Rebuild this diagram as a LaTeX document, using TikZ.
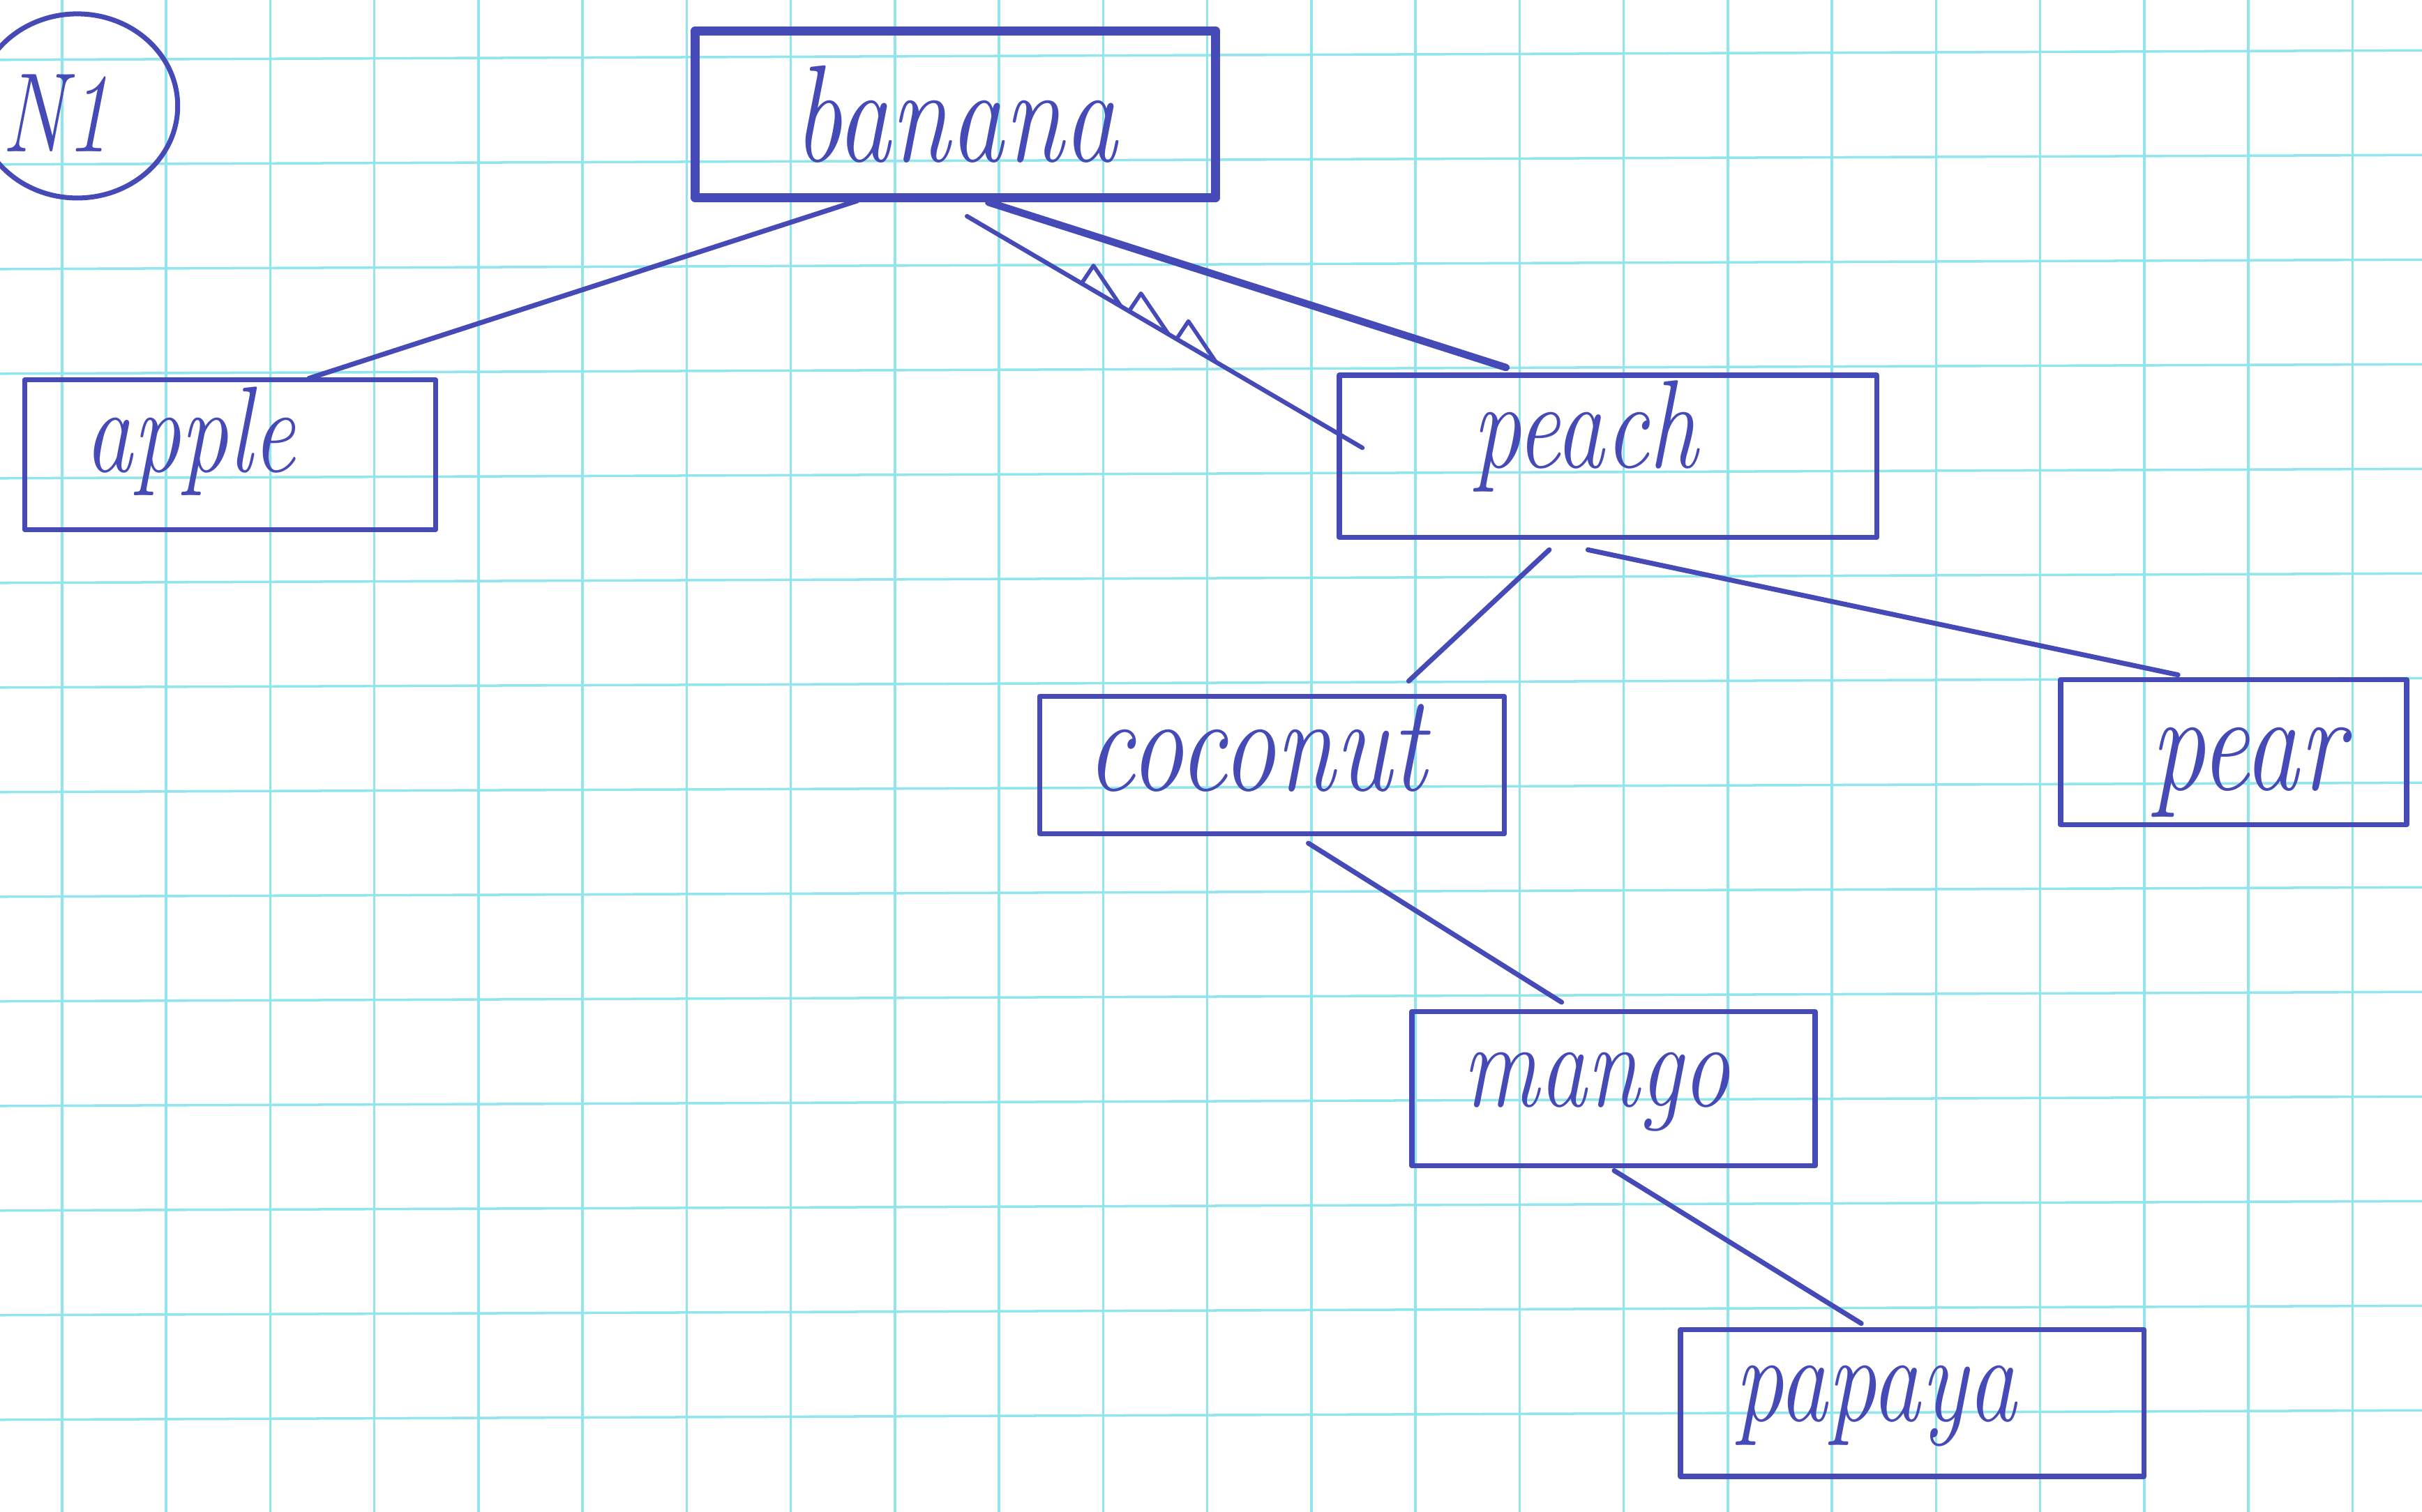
\documentclass[tikz,border=0pt]{standalone}
\usepackage{graphicx}
\usetikzlibrary{calc,fit,shapes.geometric}
\definecolor{ink}{RGB}{70,74,182}
\definecolor{gridc}{RGB}{145,230,238}
\newcommand{\hwtext}[1]{\scalebox{1}[1.28]{#1}}
\begin{document}
\begin{tikzpicture}[x=0.022143cm, y=-0.022143cm,
  box/.style={draw=ink, line width=2.1pt, inner sep=0pt, outer sep=0pt, line join=round},
  topbox/.style={box, line width=3.8pt},
  wire/.style={draw=ink, line width=2pt, line cap=round},
  txt/.style={text=ink, inner sep=0pt},
  gridline/.style={draw=gridc, line width=1pt}]
\useasboundingbox (0,0) rectangle (1568,979);
\fill[white] (0,0) rectangle (1568,979);
% graph paper
\begin{scope}
\clip (0,0) rectangle (1568,979);
\foreach \k in {0,...,22} \draw[gridline] ({40.19+67.40*\k},0) -- ({40.19+67.40*\k},979);
\foreach \k in {0,...,13} \draw[gridline] (0,{38.75+67.74*\k}) -- (1568,{32.65+67.74*\k});
\end{scope}
% number mark
\node[draw=ink, line width=2pt, ellipse, minimum width=2.88cm, minimum height=2.64cm,
  label={[txt, font=\fontsize{36}{42}\selectfont\itshape, xshift=-0.31cm, yshift=-0.1cm]center:\hwtext{N1}}]
  (num) at (50,68.6) {};
% boxes
\node[topbox, fit={(450,20) (787,128)},
  label={[txt, font=\fontsize{44}{50}\selectfont\itshape]center:\hwtext{banana}}] (banana) {};
\node[box, fit={(16,246) (282,343)},
  label={[txt, font=\fontsize{39}{45}\selectfont\itshape, xshift=-0.576cm, yshift=0.199cm]center:\hwtext{apple}}] (apple) {};
\node[box, fit={(867,243) (1215,348)},
  label={[txt, font=\fontsize{40}{46}\selectfont\itshape, xshift=-0.332cm, yshift=0.288cm]center:\hwtext{peach}}] (peach) {};
\node[box, fit={(673,451) (974,540)},
  label={[txt, font=\fontsize{44}{50}\selectfont\itshape, xshift=-0.221cm, yshift=0.244cm]center:\hwtext{coconut}}] (coconut) {};
\node[box, fit={(1334,440) (1558,534)},
  label={[txt, font=\fontsize{45}{51}\selectfont\itshape, xshift=0.199cm, yshift=-0.288cm]center:\hwtext{pear}}] (pear) {};
\node[box, fit={(914,655) (1175,755)},
  label={[txt, font=\fontsize{39}{45}\selectfont\itshape, xshift=-0.244cm, yshift=-0.044cm]center:\hwtext{mango}}] (mango) {};
\node[box, fit={(1088,861) (1388,956)},
  label={[txt, font=\fontsize{40}{46}\selectfont\itshape, xshift=-0.531cm, yshift=-0.044cm]center:\hwtext{papaya}}] (papaya) {};
% connectors
\draw[wire] ($(banana.south west)+(105,2)$) -- ($(apple.north west)+(184,-1)$);
\draw[wire, line width=3pt] ($(banana.south west)+(190,3)$) -- ($(peach.north west)+(108,-5)$);
\coordinate (zA) at ($(banana.south west)+(176,12)$);
\coordinate (zB) at ($(peach.north west)+(15,47)$);
\draw[wire, line width=1.8pt] (zA) -- (zB);
\foreach \t in {0.29,0.41,0.53}
  \draw[wire, line width=1.6pt, line join=round]
    ($(zA)!\t!(zB)$) -- ($(zA)!{\t+0.03}!(zB)+(0,-16)$) -- ($(zA)!{\t+0.1}!(zB)$);
\draw[wire] ($(peach.south west)+(136,8)$) -- ($(coconut.north west)+(239,-10)$);
\draw[wire] ($(peach.south west)+(161,8)$) -- ($(pear.north west)+(76,-3)$);
\draw[wire] ($(coconut.south west)+(174,6)$) -- ($(mango.north west)+(97,-6)$);
\draw[wire] ($(mango.south west)+(131,3)$) -- ($(papaya.north west)+(117,-4)$);
\end{tikzpicture}
\end{document}
